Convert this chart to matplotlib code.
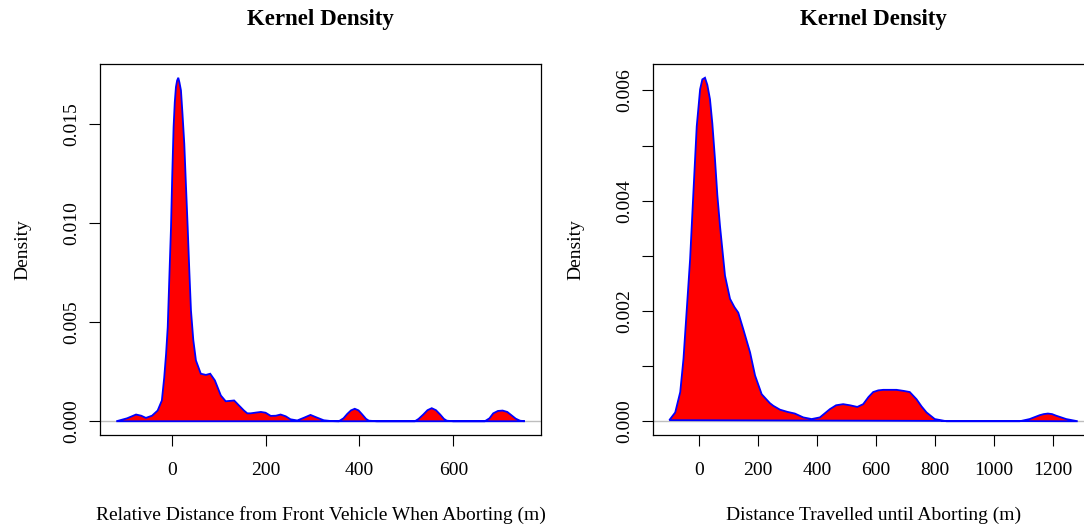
import matplotlib.pyplot as plt

plt.rcParams['font.family'] = ['Liberation Serif', 'DejaVu Serif']

# Left panel: density curve
rel_x = [-118, -95, -76, -65, -55, -42, -30, -21, -16, -12, -8.5, -5, -1.5,
         1, 4, 6.5, 9, 11.5, 14, 16.5, 19.7, 23, 26.8, 30, 34, 37.5, 41, 46,
         51.6, 62, 72.8, 82, 92, 104.7, 115, 125, 133,
         143.6, 154, 161, 168, 180, 190, 200, 211, 222, 232, 243, 253, 267.5,
         282, 295.7, 310, 324, 340, 356, 366, 374, 382, 390, 398, 406, 414,
         420, 437, 518, 526, 536, 545, 554, 563, 572, 580, 586, 600, 667, 677,
         685, 695, 705, 715, 724, 733, 742, 752]
rel_y = [0.0, 0.00015, 0.00034, 0.00028, 0.00017, 0.00028, 0.00054, 0.00105,
         0.0022, 0.0034, 0.00475, 0.0073, 0.0098, 0.0123, 0.01485, 0.0161,
         0.01687, 0.0172, 0.01734, 0.0171, 0.0167, 0.0155, 0.0140, 0.0121,
         0.0098, 0.0076, 0.0056, 0.0041, 0.00307, 0.0024, 0.00234, 0.0024,
         0.00206, 0.0013,
         0.00101, 0.00103, 0.00105, 0.00079, 0.00054, 0.0004, 0.0004, 0.00044,
         0.00047, 0.00043, 0.00027, 0.00028, 0.00034, 0.00025, 0.0001,
         0.00004, 0.00018, 0.00032, 0.00018, 0.00005, 0.00001, 0.0, 0.00015,
         0.00037, 0.00055, 0.00063, 0.00055, 0.00034, 0.00012, 0.00003, 0.0,
         0.0, 0.00012, 0.00034, 0.00056, 0.00066, 0.00056, 0.00034, 0.00012,
         0.00003, 0.0, 0.0, 0.00015, 0.0004, 0.00052, 0.00054, 0.00047, 0.0003,
         0.00013, 0.00003, 0.0]

# Right panel: density curve
trv_x = [-101, -81, -64, -53, -41.8, -30.5, -19.3, -8, -2, 3.4, 11, 20, 28,
         37, 45, 54, 62, 71,
         88, 105, 120, 133, 150, 173, 190, 212.5, 240, 252, 274.6, 300, 325,
         353.6, 382, 410, 444, 465, 489, 512, 537, 557, 575, 591, 608, 625,
         650, 670, 695, 715, 738, 755, 772, 800, 840, 1088, 1122, 1156, 1170,
         1184, 1198, 1212.5, 1246, 1285]
trv_y = [0.00002, 0.00016, 0.00053, 0.00113, 0.00203, 0.00294, 0.00415,
         0.00535, 0.0057, 0.00602, 0.0062, 0.00623, 0.0061, 0.00584, 0.0054,
         0.00475, 0.0041, 0.00354, 0.00264,
         0.00222, 0.00207, 0.00197, 0.00167, 0.00125, 0.00083, 0.00049,
         0.00033, 0.00028, 0.00021, 0.00017, 0.00014, 0.00007, 0.00004,
         0.00007, 0.00022, 0.00029, 0.00031, 0.00029, 0.00026, 0.00031,
         0.00044, 0.00053, 0.00056, 0.00057, 0.00057, 0.00057, 0.00055,
         0.00053, 0.0004, 0.00027, 0.00016, 0.00004, 0.0, 0.0, 0.00004,
         0.00011, 0.00013, 0.00014, 0.00013, 0.0001, 0.00004, 0.0]

rel_xticks = [0, 200, 400, 600]
rel_yticks = [0.000, 0.005, 0.010, 0.015]
rel_ylabels = ['0.000', '0.005', '0.010', '0.015']
trv_xticks = [0, 200, 400, 600, 800, 1000, 1200]
trv_yticks = [0.000, 0.001, 0.002, 0.003, 0.004, 0.005, 0.006]
trv_ylabels = ['0.000', '', '0.002', '', '0.004', '', '0.006']

fig = plt.figure(figsize=(10.84, 5.32), dpi=100)
ax1 = fig.add_axes([100 / 1084, 97 / 532, 441 / 1084, 371 / 532])
ax2 = fig.add_axes([653 / 1084, 97 / 532, 441 / 1084, 371 / 532])


def draw(ax, x, y, xticks, yticks, ylabels, xlabel):
    ax.axhline(0, color='#bebebe', lw=1, zorder=1)
    ax.fill(x, y, facecolor='red', edgecolor='blue', lw=1.3, zorder=2)
    # R style: 4% padding around the data range
    xr = max(x) - min(x)
    yr = max(y) - min(y)
    ax.set_xlim(min(x) - 0.04 * xr, max(x) + 0.04 * xr)
    ax.set_ylim(-0.04 * yr, max(y) + 0.04 * yr)
    ax.set_xticks(xticks)
    ax.set_xticklabels([str(t) for t in xticks])
    ax.set_yticks(yticks)
    ax.set_yticklabels(ylabels, rotation=90, va='center')
    ax.tick_params(direction='out', length=8.2, width=0.8, labelsize=14,
                   color='black')
    ax.tick_params(axis='x', pad=11)
    ax.tick_params(axis='y', pad=6)
    for s in ax.spines.values():
        s.set_linewidth(0.9)
        s.set_color('black')
    ax.set_title('Kernel Density', fontsize=16.5, fontweight='bold', pad=28)
    ax.set_xlabel(xlabel, fontsize=14, labelpad=20)
    ax.set_ylabel('Density', fontsize=14, labelpad=23)


draw(ax1, rel_x, rel_y, rel_xticks, rel_yticks, rel_ylabels,
     'Relative Distance from Front Vehicle When Aborting (m)')
draw(ax2, trv_x, trv_y, trv_xticks, trv_yticks, trv_ylabels,
     'Distance Travelled until Aborting (m)')

fig.savefig('out.png', dpi=100)
